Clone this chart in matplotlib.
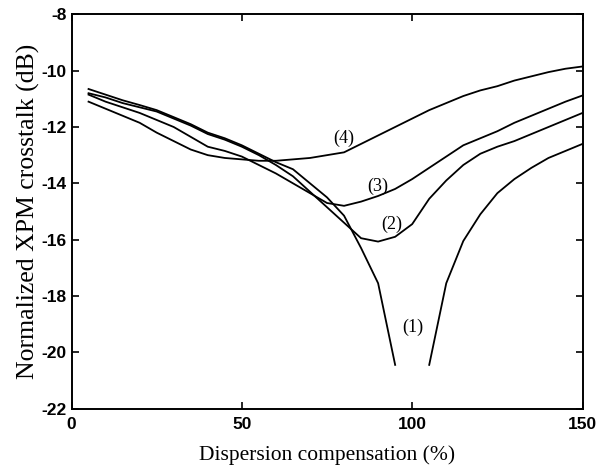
import numpy as np
import matplotlib
matplotlib.use("Agg")
import matplotlib.pyplot as plt

plt.rcParams["axes.unicode_minus"] = False

# dispersion compensation (%)
comp = [5, 10, 15, 20, 25, 30, 35, 40, 45, 50, 55, 60, 65, 70, 75,
        80, 85, 90, 95, 100, 105, 110, 115, 120, 125, 130, 135, 140, 145, 150]

# normalized XPM crosstalk (dB), curves (1)..(4)
xpm_1 = [-10.65, -10.85, -11.05, -11.22, -11.4, -11.65, -11.9, -12.2, -12.4, -12.65,
         -12.95, -13.25, -13.5, -14.0, -14.5, -15.15, -16.3, -17.55, -20.45, np.nan,
         -20.45, -17.55, -16.05, -15.1, -14.35, -13.85, -13.45, -13.1, -12.85, -12.6]
xpm_2 = [-10.8, -10.95, -11.15, -11.3, -11.45, -11.7, -11.95, -12.25, -12.45, -12.7,
         -13.0, -13.35, -13.75, -14.3, -14.85, -15.4, -15.95, -16.07, -15.9, -15.45,
         -14.55, -13.9, -13.35, -12.95, -12.7, -12.5, -12.25, -12.0, -11.75, -11.5]
xpm_3 = [-10.85, -11.1, -11.3, -11.5, -11.75, -12.0, -12.35, -12.7, -12.85, -13.05,
         -13.35, -13.65, -14.0, -14.35, -14.7, -14.8, -14.65, -14.45, -14.2, -13.85,
         -13.45, -13.05, -12.65, -12.4, -12.15, -11.85, -11.6, -11.35, -11.1, -10.88]
xpm_4 = [-11.1, -11.35, -11.6, -11.85, -12.2, -12.5, -12.8, -13.0, -13.1, -13.15,
         -13.2, -13.2, -13.15, -13.1, -13.0, -12.9, -12.6, -12.3, -12.0, -11.7,
         -11.4, -11.15, -10.9, -10.7, -10.55, -10.35, -10.2, -10.05, -9.93, -9.85]

curve_labels = ["(1)", "(2)", "(3)", "(4)"]
label_pos = [(100.3, -19.1), (94.0, -15.45), (89.8, -14.1), (80.0, -12.4)]

xticks = [0, 50, 100, 150]
yticks = [-22, -20, -18, -16, -14, -12, -10, -8]

fig = plt.figure(figsize=(6.08, 4.72), dpi=100)
ax = fig.add_axes([0.1176, 0.1345, 0.8405, 0.835])

for ys in (xpm_1, xpm_2, xpm_3, xpm_4):
    ax.plot(comp, ys, color="black", lw=1.3)

for txt, (x, y) in zip(curve_labels, label_pos):
    ax.text(x, y, txt, family="Liberation Serif", fontsize=13,
            ha="center", va="center")

ax.set_xlim(0, 150)
ax.set_ylim(-22, -8)
ax.set_xticks(xticks)
ax.set_yticks(yticks)
ax.tick_params(direction="in", top=True, right=True, length=5, width=1.2,
               labelsize=12.5)
ax.tick_params(axis="x", pad=6)
for lab in ax.get_xticklabels() + ax.get_yticklabels():
    lab.set_family("Liberation Sans")
    lab.set_fontweight("bold")
for sp in ax.spines.values():
    sp.set_linewidth(1.4)

ax.set_xlabel("Dispersion compensation (%)", family="Liberation Serif",
              fontsize=15.5, labelpad=10)
ax.set_ylabel("Normalized XPM crosstalk (dB)", family="Liberation Serif",
              fontsize=18.5, labelpad=1)

fig.savefig("out.png", dpi=100)
